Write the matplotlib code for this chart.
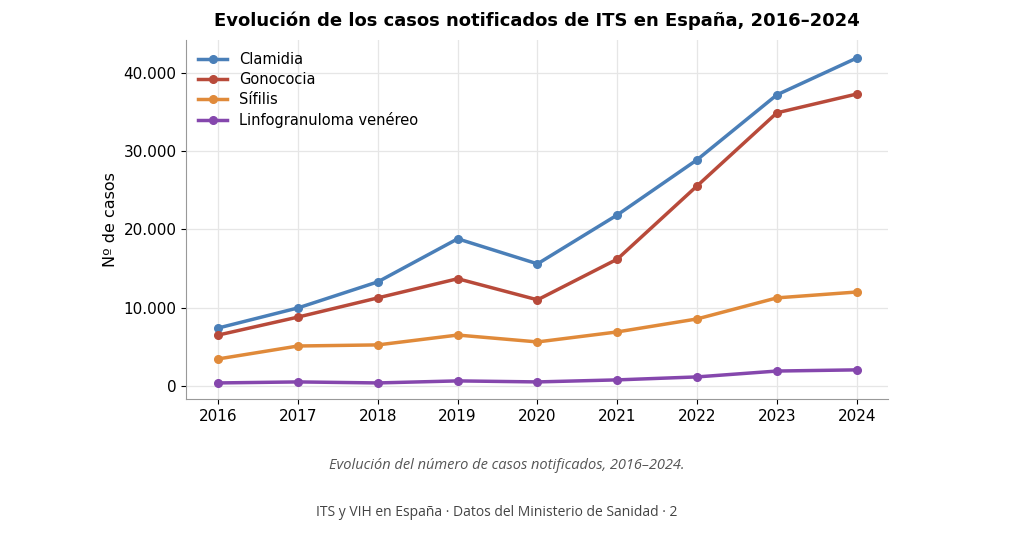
import matplotlib
matplotlib.use("Agg")
import matplotlib.pyplot as plt
from matplotlib.ticker import FuncFormatter

years = [2016, 2017, 2018, 2019, 2020, 2021, 2022, 2023, 2024]
clamidia = [7400, 9970, 13300, 18800, 15600, 21850, 28900, 37200, 41900]
gonococia = [6500, 8800, 11250, 13700, 11000, 16200, 25560, 34900, 37300]
sifilis = [3450, 5100, 5240, 6500, 5620, 6900, 8560, 11250, 12000]
lgv = [380, 510, 380, 640, 510, 770, 1150, 1900, 2050]

series = [("Clamidia", clamidia, "#4a7fb8"), ("Gonococia", gonococia, "#b84a3a"),
          ("Sífilis", sifilis, "#e08a3a"), ("Linfogranuloma venéreo", lgv, "#8547ad")]

fig = plt.figure(figsize=(10.24, 5.34), dpi=100)
ax = fig.add_axes([0.182, 0.253, 0.685, 0.672])
for name, vals, c in series:
    ax.plot(years, vals, marker="o", ms=5.5, lw=2.5, color=c, label=name)

ax.set_xlim(2015.6, 2024.39)
ax.set_ylim(-1660, 44200)
ax.set_xticks(years)
ax.set_yticks([0, 10000, 20000, 30000, 40000])
ax.yaxis.set_major_formatter(FuncFormatter(lambda v, p: f"{int(v):,}".replace(",", ".")))
ax.tick_params(labelsize=11)
ax.grid(True, color="#e6e6e6", lw=0.9)
ax.set_axisbelow(True)
for s in ("top", "right"):
    ax.spines[s].set_visible(False)
for s in ("left", "bottom"):
    ax.spines[s].set_color("#999999")
ax.set_ylabel("Nº de casos", fontsize=11.5)
ax.set_title("Evolución de los casos notificados de ITS en España, 2016–2024",
             fontsize=13, fontweight="bold", pad=10)
ax.legend(loc="upper left", frameon=False, fontsize=10.5, handlelength=2, borderaxespad=0.4,
          labelspacing=0.35)

fig.text(0.495, 0.122, "Evolución del número de casos notificados, 2016–2024.", ha="center",
         fontsize=10.5, style="italic", color="#555555", family="Open Sans")
fig.text(0.485, 0.033, "ITS y VIH en España · Datos del Ministerio de Sanidad · 2", ha="center",
         fontsize=10, color="#444444", family="Open Sans")
fig.savefig("out.png", dpi=100)
